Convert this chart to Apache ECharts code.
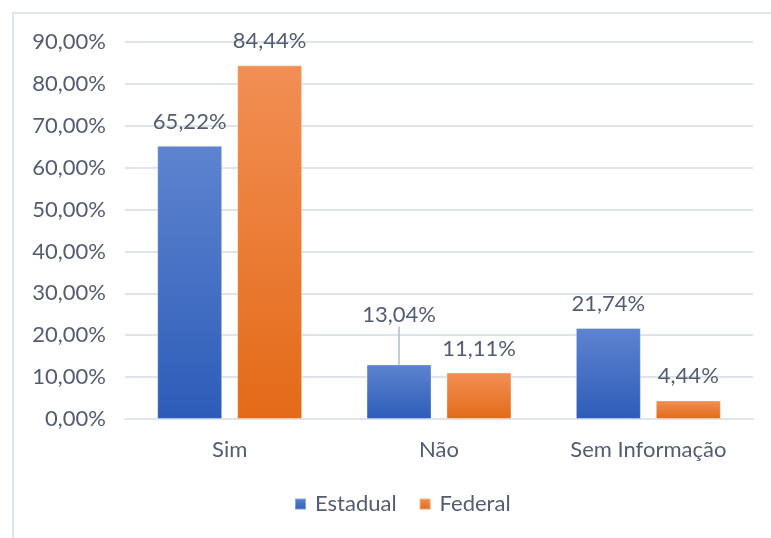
<!DOCTYPE html>
<html>
<head>
<meta charset="utf-8">
<script src="https://cdn.jsdelivr.net/npm/echarts@6/dist/echarts.min.js"></script>
<style>
  html, body { margin: 0; padding: 0; background: #fff; }
  #frame { position: absolute; left: 12px; top: 12px; width: 800px; height: 600px;
           border-left: 2px solid #dfe3ea; border-top: 2px solid #dfe3ea; }
  #chart { position: absolute; left: 0; top: 0; width: 771px; height: 538px; }
</style>
</head>
<body>
<div id="frame"></div>
<div id="chart"></div>
<script>
const categories = ['Sim', 'Não', 'Sem Informação']
const estadual = [65.22, 13.04, 21.74]
const federal = [84.44, 11.11, 4.44]

const textColor = '#535d6f'
const fontFamily = 'Lato, "Noto Sans", sans-serif'

const fmt = v => v.toFixed(2).replace('.', ',') + '%'

function grad(top, bottom) {
  return new echarts.graphic.LinearGradient(0, 0, 0, 1, [
    { offset: 0, color: top },
    { offset: 1, color: bottom },
  ])
}

const chart = echarts.init(document.getElementById('chart'))

const labelStyle = {
  show: true,
  position: 'top',
  distance: 13,
  color: textColor,
  fontSize: 22,
  fontFamily,
  formatter: p => fmt(p.value),
}

chart.setOption({
  animation: false,
  grid: { left: 125, right: 18, top: 42, bottom: 119 },
  legend: {
    bottom: 18,
    left: 289,
    itemWidth: 11,
    itemHeight: 11,
    itemGap: 22,
    icon: 'rect',
    textStyle: { color: textColor, fontSize: 22, fontFamily, padding: [0, 0, 0, 4] },
    data: ['Estadual', 'Federal'],
  },
  xAxis: {
    type: 'category',
    data: categories,
    axisTick: { show: false },
    axisLine: { lineStyle: { color: '#dfe3ea', width: 2 } },
    axisLabel: { color: textColor, fontSize: 22, fontFamily, margin: 20 },
  },
  yAxis: {
    type: 'value',
    min: 0,
    max: 90,
    interval: 10,
    axisLine: { show: false },
    axisTick: { show: false },
    splitLine: { lineStyle: { color: '#dfe3ea', width: 2 } },
    axisLabel: { color: textColor, fontSize: 22, fontFamily, margin: 19, formatter: fmt },
  },
  series: [
    {
      name: 'Estadual',
      type: 'bar',
      barWidth: 65,
      barGap: '23%',
      data: estadual.map((v, i) => i === 1
        ? { value: v, labelLine: { show: true, lineStyle: { color: '#b3bccb', width: 1.5 } } }
        : v),
      itemStyle: { color: grad('#5e84cf', '#2d5cb8'), borderColor: 'rgba(255,255,255,0.35)', borderWidth: 1 },
      label: labelStyle,
      labelLayout: p => (p.dataIndex === 1 ? { dy: -25 } : {}),
    },
    {
      name: 'Federal',
      type: 'bar',
      barWidth: 65,
      data: federal,
      itemStyle: { color: grad('#f28f55', '#e36a18'), borderColor: 'rgba(255,255,255,0.35)', borderWidth: 1 },
      label: labelStyle,
    },
  ],
})
</script>
</body>
</html>
